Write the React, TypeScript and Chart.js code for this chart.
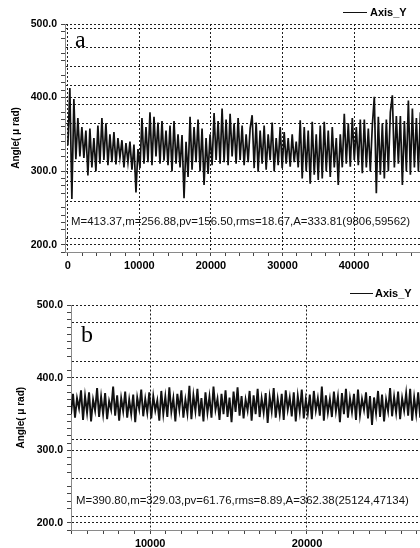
import React, { useEffect, useRef } from 'react';
import { Chart, registerables } from 'chart.js';

Chart.register(...registerables);

// ---------- data ----------
const STEP_A = 280;
const START_A = 0;
const valuesA = [
  335, 413, 262, 398, 316,
  372, 320, 360, 318, 355,
  294, 358, 305, 345, 300, 362,
  310, 372, 315, 365, 308, 350,
  312, 353, 309, 345, 318,
  342, 305, 338, 312, 340, 302, 336, 271, 330,
  304, 372, 310, 360,
  312, 380, 308, 374, 320, 366, 310,
  368, 314, 355, 308, 362,
  300, 368, 310, 350, 305,
  349, 263, 340, 292,
  374, 302, 360, 312, 370, 300,
  358, 281, 345, 296, 350,
  308, 379, 315, 368, 310,
  385, 312, 370, 308, 378, 320, 365, 310, 372, 315,
  362, 308, 350, 312, 358, 376,
  304, 366, 299, 355, 310, 362, 302, 350, 315, 366, 300, 345, 308, 360,
  304, 353, 310, 345, 306, 350, 312, 340, 305,
  369, 290, 360, 300, 355,
  283, 367, 295, 350, 288, 362,
  290, 367, 300, 355, 292, 360, 305, 345, 281, 350,
  305, 378, 310, 365, 306, 372, 315, 360, 308, 370,
  297, 370, 305, 358, 300, 362,
  401, 270, 374, 295, 365, 290, 370,
  300, 380, 403, 305, 375,
  310, 375, 281, 368, 300, 396,
  295, 385, 305, 372, 300, 380,
];

const STEP_B = 128;
const START_B = 4950;
const valuesB = [
  350, 378, 345, 372, 358, 383, 342, 375, 352, 380, 340, 370, 355, 386, 346, 374, 350, 379, 343, 368,
  356, 388, 348, 376, 341, 372, 354, 381, 345, 370, 350, 377, 339, 373, 357, 384, 347, 371, 352, 380,
  344, 375, 355, 369, 341, 382, 350, 374, 346, 387, 353, 372, 340, 378, 356, 383, 345, 370, 351, 389,
  343, 376, 354, 385, 347, 372, 340, 380, 352, 374, 345, 388, 356, 371, 342, 378, 350, 383, 346, 373,
  339, 381, 353, 387, 348, 375, 344, 370, 355, 382, 341, 376, 350, 385, 346, 372, 352, 379, 338, 374,
  354, 386, 345, 371, 350, 378, 342, 383, 356, 373, 347, 380, 340, 375, 353, 384, 344, 370, 351, 377,
  343, 382, 355, 372, 348, 388, 341, 376, 352, 371, 346, 381, 354, 374, 339, 379, 350, 385, 345, 372,
  353, 378, 342, 384, 349, 371, 356, 380, 344, 375, 335, 373, 351, 382, 346, 377, 340, 370, 354, 386,
  347, 374, 352, 381, 343, 372, 355, 379, 348, 385, 341, 373, 350, 380, 345,
];

const gridYA = [500, 494, 468, 442, 417, 400, 390.5, 364.6, 312.4, 300, 286, 259.3, 208.1, 200];
const gridYB = [500, 476.3, 422.7, 400, 315, 300, 260.9, 208.7, 200];
const yLabelValues = [200, 300, 400, 500];
const xLabelsA = [0, 10000, 20000, 30000, 40000];
const xLabelsB = [10000, 20000];
const statsA = 'M=413.37,m=256.88,pv=156.50,rms=18.67,A=333.81(9806,59562)';
const statsB = 'M=390.80,m=329.03,pv=61.76,rms=8.89,A=362.38(25124,47134)';
const seriesName = 'Axis_Y';
const yTitle = 'Angle( \u03bc rad)';

// ---------- styling ----------
const SANS = '"Liberation Sans", Arial, sans-serif';
const SERIF = '"Liberation Serif", "Times New Roman", serif';
const GRID_COLOR = '#1e1e1e';

type PanelCfg = {
  top: number;
  height: number;
  values: number[];
  start: number;
  step: number;
  lineWidth: number;
  xMin: number;
  xMax: number;
  xMinorStep: number;
  xMinorFrom: number;
  xMinorTo: number;
  xLabels: number[];
  gridY: number[];
  padTop: number;
  yWidth: number;
  xHeight: number;
  titlePad: number;
  letter: string;
  letterLeft: number;
  letterTop: number;
  stats: string;
  statsLeft: number;
  statsTop: number;
  legLineLeft: number;
  legLineTop: number;
  legLineWidth: number;
  legTextLeft: number;
  legTextTop: number;
};

const near = (a: number, list: number[]) => list.some((v) => Math.abs(v - a) < 1e-6);

function buildConfig(p: PanelCfg): any {
  const pts = p.values.map((v, i) => ({ x: p.start + i * p.step, y: v }));
  const yTicks: number[] = [...p.gridY];
  for (let v = 190; v <= 500; v += 10) if (!yTicks.some((t) => Math.abs(t - v) < 3)) yTicks.push(v);
  yTicks.sort((a, b) => a - b);
  const xTicks: number[] = [];
  for (let v = p.xMinorFrom; v <= p.xMinorTo; v += p.xMinorStep) xTicks.push(v);

  return {
    type: 'line',
    data: {
      datasets: [
        {
          label: seriesName,
          data: pts,
          borderColor: '#111111',
          borderWidth: p.lineWidth,
          pointRadius: 0,
          tension: 0,
          fill: false,
        },
      ],
    },
    options: {
      animation: false,
      responsive: false,
      maintainAspectRatio: false,
      events: [],
      layout: { padding: { top: p.padTop, left: 0, right: 0, bottom: 0 } },
      plugins: { legend: { display: false }, tooltip: { enabled: false } },
      scales: {
        x: {
          type: 'linear',
          min: p.xMin,
          max: p.xMax,
          afterBuildTicks: (s: any) => {
            s.ticks = xTicks.map((v) => ({ value: v }));
          },
          afterFit: (s: any) => {
            s.height = p.xHeight;
          },
          ticks: {
            autoSkip: false,
            maxRotation: 0,
            padding: 3,
            color: '#000',
            font: { family: SANS, size: 11, weight: 'bold' },
            callback: (v: number) => (near(v, p.xLabels) ? String(v) : ''),
          },
          grid: {
            drawOnChartArea: true,
            color: (c: any) => (c.tick && near(c.tick.value, p.xLabels) ? GRID_COLOR : 'rgba(0,0,0,0)'),
            lineWidth: 1,
            tickColor: '#444',
            tickLength: 4,
          },
          border: { display: true, color: '#8a8a8a', width: 1, dash: [2, 2] },
        },
        y: {
          type: 'linear',
          min: 190,
          max: 500,
          afterBuildTicks: (s: any) => {
            s.ticks = yTicks.map((v) => ({ value: v }));
          },
          afterFit: (s: any) => {
            s.width = p.yWidth;
          },
          title: {
            display: true,
            text: yTitle,
            color: '#000',
            font: { family: SANS, size: 10, weight: 'bold' },
            padding: { top: p.titlePad, bottom: 0 },
          },
          ticks: {
            autoSkip: false,
            padding: 4,
            color: '#000',
            font: { family: SANS, size: 10.5, weight: 'bold' },
            callback: (v: number) => (near(v, yLabelValues) ? Number(v).toFixed(1) : ''),
          },
          grid: {
            drawOnChartArea: true,
            color: (c: any) => (c.tick && near(c.tick.value, p.gridY) ? GRID_COLOR : 'rgba(0,0,0,0)'),
            lineWidth: 1,
            tickColor: (c: any) =>
              c.tick && (near(c.tick.value, yLabelValues) || !near(c.tick.value, p.gridY)) ? '#444' : 'rgba(0,0,0,0)',
            tickLength: 4,
          },
          border: { display: true, color: '#8a8a8a', width: 1, dash: [2, 2] },
        },
      },
    },
  };
}

function Panel({ p }: { p: PanelCfg }) {
  const ref = useRef<HTMLCanvasElement | null>(null);
  useEffect(() => {
    if (!ref.current) return;
    const chart = new Chart(ref.current, buildConfig(p));
    return () => chart.destroy();
  }, []);
  return (
    <div style={{ position: 'absolute', left: 0, top: p.top, width: 420, height: p.height }}>
      <canvas ref={ref} width={420} height={p.height} style={{ display: 'block', width: 420, height: p.height }} />
      <div
        style={{
          position: 'absolute',
          left: p.legLineLeft,
          top: p.legLineTop,
          width: p.legLineWidth,
          height: 1,
          background: '#111',
        }}
      />
      <div
        style={{
          position: 'absolute',
          left: p.legTextLeft,
          top: p.legTextTop,
          font: `bold 11px/11px ${SANS}`,
          color: '#000',
          whiteSpace: 'nowrap',
        }}
      >
        {seriesName}
      </div>
      <div
        style={{
          position: 'absolute',
          left: p.letterLeft,
          top: p.letterTop,
          font: `24px/24px ${SERIF}`,
          color: '#000',
        }}
      >
        {p.letter}
      </div>
      <div
        style={{
          position: 'absolute',
          left: p.statsLeft,
          top: p.statsTop,
          font: `11.4px/11.4px ${SANS}`,
          color: '#111',
          whiteSpace: 'nowrap',
        }}
      >
        {p.stats}
      </div>
    </div>
  );
}

const panelA: PanelCfg = {
  top: 0,
  height: 280,
  values: valuesA,
  start: START_A,
  step: STEP_A,
  lineWidth: 1.7,
  xMin: -400,
  xMax: 49225,
  xMinorStep: 2000,
  xMinorFrom: 0,
  xMinorTo: 48000,
  xLabels: xLabelsA,
  gridY: gridYA,
  padTop: 24,
  yWidth: 65,
  xHeight: 28,
  titlePad: 10,
  letter: 'a',
  letterLeft: 75,
  letterTop: 27,
  stats: statsA,
  statsLeft: 71,
  statsTop: 216,
  legLineLeft: 343,
  legLineTop: 12,
  legLineWidth: 24,
  legTextLeft: 370,
  legTextTop: 7.4,
};

const panelB: PanelCfg = {
  top: 280,
  height: 268,
  values: valuesB,
  start: START_B,
  step: STEP_B,
  lineWidth: 1.9,
  xMin: 4950,
  xMax: 27210,
  xMinorStep: 1000,
  xMinorFrom: 5000,
  xMinorTo: 27000,
  xLabels: xLabelsB,
  gridY: gridYB,
  padTop: 25.5,
  yWidth: 71,
  xHeight: 18,
  titlePad: 15,
  letter: 'b',
  letterLeft: 81,
  letterTop: 41.6,
  stats: statsB,
  statsLeft: 76,
  statsTop: 215.4,
  legLineLeft: 350,
  legLineTop: 13,
  legLineWidth: 23,
  legTextLeft: 375,
  legTextTop: 8,
};

export default function App() {
  return (
    <div style={{ position: 'absolute', left: 0, top: 0, width: 420, height: 548, overflow: 'hidden', background: '#fff' }}>
      <Panel p={panelA} />
      <Panel p={panelB} />
    </div>
  );
}
